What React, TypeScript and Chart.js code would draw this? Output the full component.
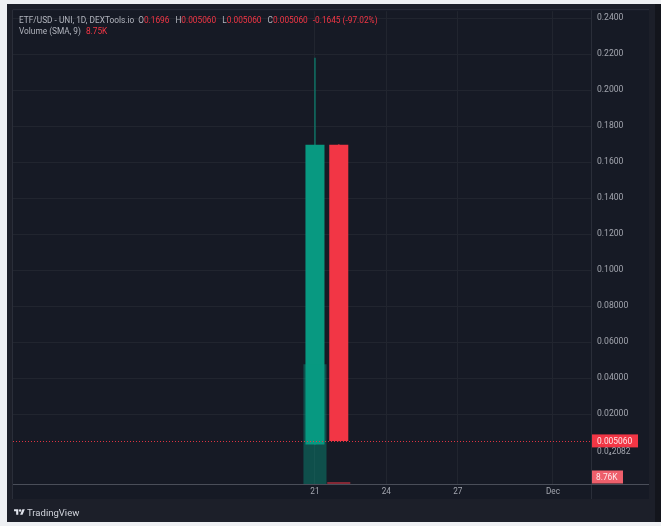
import React, { useEffect, useRef } from "react";
import { Chart, registerables } from "chart.js";

Chart.register(...registerables);

// ---- data ----
const DAYS = [21, 22];
const OPEN = [0.0031, 0.1696];
const HIGH = [0.2178, 0.1696];
const LOW = [0.0031, 0.00506];
const CLOSE = [0.1696, 0.00506];
const VOLUME = [507000, 8760];

const X_TICKS = [21, 24, 27, 31];
const X_TICK_LABELS = ["21", "24", "27", "Dec"];

const PRICE_TICKS = [0.02, 0.04, 0.06, 0.08, 0.1, 0.12, 0.14, 0.16, 0.18, 0.2, 0.22, 0.24];
const PRICE_TICK_LABELS = [
  "0.02000", "0.04000", "0.06000", "0.08000", "0.1000", "0.1200",
  "0.1400", "0.1600", "0.1800", "0.2000", "0.2200", "0.2400",
];

const LAST_PRICE = 0.00506;
const LAST_PRICE_LABEL = "0.005060";
const SMALL_PRICE = 0.00002082;
const SMALL_PRICE_LABEL = "0.0\u20842082";
const LAST_VOLUME_LABEL = "8.76K";

// axis ranges
const PRICE_MIN = -0.01889;
const PRICE_MAX = 0.24389;
const X_MIN = 8.31;
const X_MAX = 32.6;
const VOL_MAX = 2000000;

const UP = "#089981";
const DOWN = "#f23645";
const FONT = "Roboto, 'Noto Sans', sans-serif";

const framePlugin = {
  id: "frame",
  beforeDraw(chart: any) {
    const ctx = chart.ctx;
    const { width, height } = chart;
    const ca = chart.chartArea;
    const xs = chart.scales.x;
    const ys = chart.scales.y;
    ctx.save();
    ctx.fillStyle = "#eef0f3";
    ctx.fillRect(0, 0, width, height);
    ctx.fillStyle = "#1c1f29";
    ctx.fillRect(7, 4, width - 7, 518);
    ctx.fillStyle = "#13151c";
    ctx.fillRect(655, 4, width - 655, 518);
    ctx.fillStyle = "#161a25";
    ctx.fillRect(ca.left, ca.top - 1, ys.right - ca.left, xs.bottom - ca.top + 1);
    ctx.restore();
  },
  afterDatasetsDraw(chart: any) {
    const ctx = chart.ctx;
    const ca = chart.chartArea;
    const ys = chart.scales.y;
    const py = Math.round(ys.getPixelForValue(LAST_PRICE)) + 0.5;
    ctx.save();
    ctx.strokeStyle = "rgba(242,54,69,0.9)";
    ctx.lineWidth = 1;
    ctx.setLineDash([1, 2]);
    ctx.beginPath();
    ctx.moveTo(ca.left, py);
    ctx.lineTo(ca.right, py);
    ctx.stroke();
    ctx.restore();
  },
  afterDraw(chart: any) {
    const ctx = chart.ctx;
    const ca = chart.chartArea;
    const xs = chart.scales.x;
    const ys = chart.scales.y;
    const vs = chart.scales.v;
    ctx.save();
    // frame lines
    ctx.strokeStyle = "#2a2e39";
    ctx.lineWidth = 1;
    ctx.beginPath();
    ctx.moveTo(ca.left - 0.5, ca.top - 1.5);
    ctx.lineTo(ca.left - 0.5, xs.bottom);
    ctx.moveTo(ca.right + 0.5, ca.top - 1);
    ctx.lineTo(ca.right + 0.5, xs.bottom);
    ctx.moveTo(ca.left, ca.top - 1.5);
    ctx.lineTo(ys.right, ca.top - 1.5);
    ctx.stroke();
    ctx.strokeStyle = "#4a4e59";
    ctx.beginPath();
    ctx.moveTo(ca.left, ca.bottom + 0.5);
    ctx.lineTo(ys.right, ca.bottom + 0.5);
    ctx.stroke();

    ctx.font = `8.4px ${FONT}`;
    ctx.textBaseline = "middle";
    ctx.textAlign = "left";
    // last price label
    const py = ys.getPixelForValue(LAST_PRICE);
    ctx.fillStyle = DOWN;
    ctx.fillRect(ca.right + 1, py - 6.5, 46, 13);
    ctx.fillStyle = "#fde8ea";
    ctx.fillText(LAST_PRICE_LABEL, ca.right + 6, py + 0.5);
    // small price label
    const ps = Math.max(ys.getPixelForValue(SMALL_PRICE), py + 10.5);
    ctx.fillStyle = "#a3a6af";
    ctx.fillText(SMALL_PRICE_LABEL, ca.right + 6, ps);
    // volume label
    const pv = Math.min(vs.getPixelForValue(VOLUME[VOLUME.length - 1]), ca.bottom - 7);
    ctx.fillStyle = "#ee5f6b";
    ctx.fillRect(ca.right + 1, pv - 6.5, 31, 13);
    ctx.fillStyle = "#fde8ea";
    ctx.fillText(LAST_VOLUME_LABEL, ca.right + 5, pv + 0.5);
    ctx.restore();
  },
};

function TVLogo() {
  return (
    <svg width="11" height="8.5" viewBox="0 0 36 28" style={{ position: "absolute", left: 14, top: 508 }}>
      <path d="M14 22H7V11H0V4h14v18zM28 22h-8l7.5-18h8L28 22z" fill="#e0e3eb" />
      <circle cx="20" cy="8" r="4" fill="#e0e3eb" />
    </svg>
  );
}

const line: React.CSSProperties = {
  position: "absolute",
  left: 19,
  fontFamily: FONT,
  fontSize: 8.3,
  lineHeight: "10px",
  whiteSpace: "nowrap",
  color: "#b2b5be",
};
const r: React.CSSProperties = { color: DOWN };

export default function App() {
  const ref = useRef<HTMLCanvasElement | null>(null);

  useEffect(() => {
    if (!ref.current) return;
    const colors = DAYS.map((_, i) => (CLOSE[i] >= OPEN[i] ? UP : DOWN));
    const volColors = DAYS.map((_, i) =>
      CLOSE[i] >= OPEN[i] ? "rgba(8,153,129,0.42)" : "rgba(242,54,69,0.5)"
    );
    const chart = new Chart(ref.current, {
      type: "bar",
      data: {
        datasets: [
          {
            label: "Volume",
            data: DAYS.map((d, i) => ({ x: d, y: VOLUME[i] })) as any,
            yAxisID: "v",
            backgroundColor: volColors,
            barPercentage: 0.97,
            categoryPercentage: 1,
            grouped: false,
            order: 0,
          },
          {
            label: "Body",
            data: DAYS.map((d, i) => ({ x: d, y: [OPEN[i], CLOSE[i]] })) as any,
            yAxisID: "y",
            backgroundColor: colors,
            barPercentage: 0.8,
            categoryPercentage: 1,
            grouped: false,
            order: 1,
          },
          {
            label: "Wick",
            data: DAYS.map((d, i) => ({ x: d, y: [LOW[i], HIGH[i]] })) as any,
            yAxisID: "y",
            backgroundColor: colors.map((c) => (c === UP ? "rgba(8,153,129,0.6)" : c)),
            barThickness: 1,
            grouped: false,
            order: 2,
          },
        ],
      },
      options: {
        animation: false,
        responsive: false,
        devicePixelRatio: 1,
        layout: { padding: { left: 13, right: 12, top: 11, bottom: 27 } },
        plugins: { legend: { display: false }, tooltip: { enabled: false } },
        scales: {
          x: {
            type: "linear",
            offset: false,
            min: X_MIN,
            max: X_MAX,
            grid: { color: "#21252f", drawTicks: false, offset: false },
            border: { display: false },
            afterBuildTicks: (s: any) => {
              s.ticks = X_TICKS.map((v) => ({ value: v }));
            },
            afterFit: (s: any) => {
              s.height = 15;
            },
            ticks: {
              autoSkip: false,
              maxRotation: 0,
              padding: 3,
              color: "#a3a6af",
              font: { family: FONT, size: 8.2 },
              callback: (v: any) => {
                const i = X_TICKS.indexOf(Number(v));
                return i >= 0 ? X_TICK_LABELS[i] : "";
              },
            },
          },
          y: {
            position: "right",
            min: PRICE_MIN,
            max: PRICE_MAX,
            grid: { color: "#21252f", drawTicks: false },
            border: { display: false },
            afterBuildTicks: (s: any) => {
              s.ticks = PRICE_TICKS.map((v) => ({ value: v }));
            },
            afterFit: (s: any) => {
              s.width = 58;
            },
            ticks: {
              autoSkip: false,
              padding: 6,
              color: "#a3a6af",
              font: { family: FONT, size: 8.6 },
              callback: (v: any) => {
                const i = PRICE_TICKS.findIndex((t) => Math.abs(t - Number(v)) < 1e-9);
                return i >= 0 ? PRICE_TICK_LABELS[i] : "";
              },
            },
          },
          v: {
            display: false,
            min: 0,
            max: VOL_MAX,
          },
        },
      },
      plugins: [framePlugin],
    } as any);
    return () => chart.destroy();
  }, []);

  return (
    <div style={{ position: "fixed", left: 0, top: 0, width: 661, height: 526, overflow: "hidden" }}>
      <canvas ref={ref} width={661} height={526} style={{ display: "block", width: 661, height: 526 }} />
      <div style={{ ...line, top: 15 }}>
        <span>ETF/USD - UNI, 1D, DEXTools.io</span>
        <span style={{ marginLeft: 4 }}>O</span>
        <span style={r}>0.1696</span>
        <span style={{ marginLeft: 6 }}>H</span>
        <span style={r}>0.005060</span>
        <span style={{ marginLeft: 6 }}>L</span>
        <span style={r}>0.005060</span>
        <span style={{ marginLeft: 6 }}>C</span>
        <span style={r}>0.005060</span>
        <span style={{ ...r, marginLeft: 5 }}>-0.1645 (-97.02%)</span>
      </div>
      <div style={{ ...line, top: 26 }}>
        <span>Volume (SMA, 9)</span>
        <span style={{ ...r, marginLeft: 5 }}>8.75K</span>
      </div>
      <TVLogo />
      <span
        style={{
          position: "absolute",
          left: 27,
          top: 507,
          fontFamily: FONT,
          fontSize: 9.5,
          lineHeight: "12px",
          whiteSpace: "nowrap",
          color: "#d1d4dc",
        }}
      >
        TradingView
      </span>
    </div>
  );
}
